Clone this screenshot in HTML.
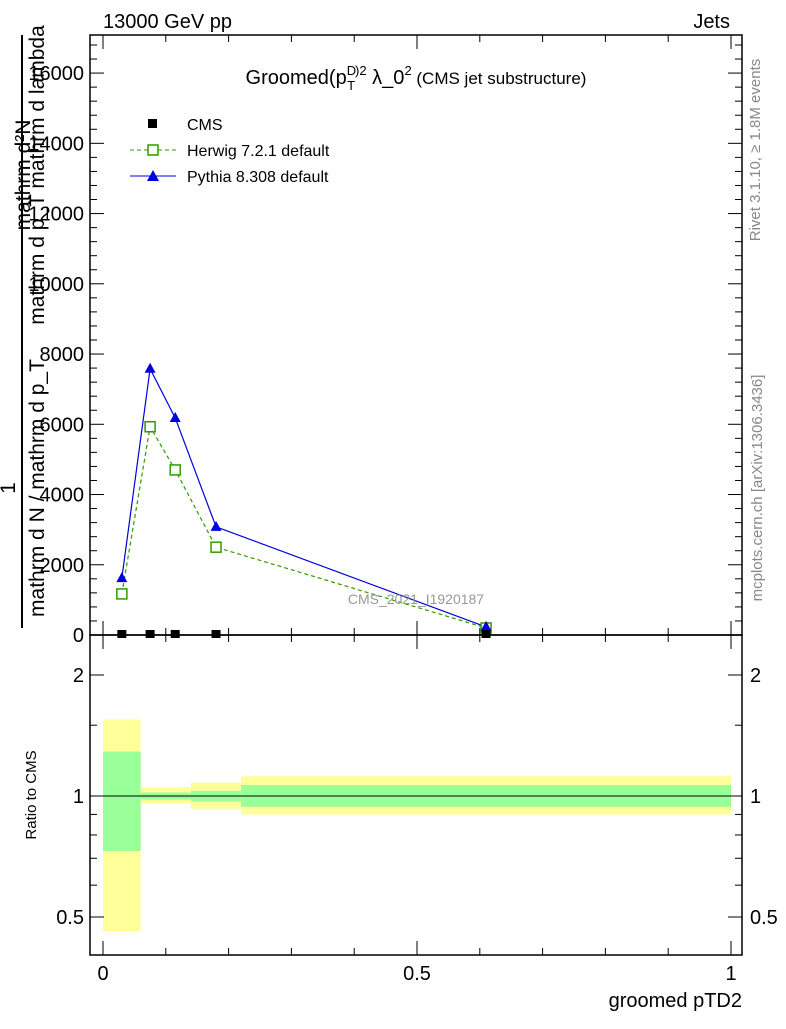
<!DOCTYPE html>
<html><head><meta charset="utf-8"><style>
body{margin:0;background:#fff;font-family:"Liberation Sans",sans-serif}
</style></head><body>
<svg id="c" width="786" height="1024" xmlns="http://www.w3.org/2000/svg" font-family="Liberation Sans, sans-serif">
<text x="103" y="28" font-size="20">13000 GeV pp</text>
<text x="730" y="28" font-size="20" text-anchor="end">Jets</text>
<rect x="90" y="35" width="652" height="600" fill="none" stroke="#000" stroke-width="1.5"/>
<rect x="90" y="635" width="652" height="320" fill="none" stroke="#000" stroke-width="1.5"/>
<g id="bands"></g>
<g id="axes"></g>
<g id="series"></g>
<text x="416" y="84" font-size="20" text-anchor="middle">Groomed(p<tspan font-size="13" dy="-9">D</tspan><tspan font-size="13" dy="15" dx="-9">T</tspan><tspan font-size="13" dy="-15">)</tspan><tspan font-size="13">2</tspan><tspan dy="9"> λ_0</tspan><tspan font-size="13" dy="-9">2</tspan><tspan dy="9" font-size="17"> (CMS jet substructure)</tspan></text>
<g>
<rect x="148" y="119" width="9" height="9" fill="#000"/>
<text x="187" y="130" font-size="16">CMS</text>
<line x1="130" y1="150" x2="176" y2="150" stroke="#339900" stroke-dasharray="4,3"/>
<rect x="148" y="145" width="10" height="10" fill="#fff" stroke="#339900" stroke-width="1.5"/>
<text x="187" y="156" font-size="16">Herwig 7.2.1 default</text>
<line x1="130" y1="176" x2="176" y2="176" stroke="#0000dd"/>
<polygon points="153,170 159,181 147,181" fill="#0000dd"/>
<text x="187" y="182" font-size="16">Pythia 8.308 default</text>
</g>
<text x="416" y="604" font-size="14" fill="#999" text-anchor="middle">CMS_2021_I1920187</text>
<text transform="translate(760,150) rotate(-90)" font-size="15" fill="#888" text-anchor="middle">Rivet 3.1.10, ≥ 1.8M events</text>
<text transform="translate(762,488) rotate(-90)" font-size="15" fill="#888" text-anchor="middle">mcplots.cern.ch [arXiv:1306.3436]</text>
<g font-size="21">
<text transform="translate(30,175) rotate(-90)" text-anchor="middle">mathrm d²N</text>
<text transform="translate(44,175) rotate(-90)" text-anchor="middle">mathrm d p_T mathrm d lambda</text>
<line x1="22" y1="35" x2="22" y2="628" stroke="#000" stroke-width="2"/>
<text transform="translate(15,488) rotate(-90)" text-anchor="middle">1</text>
<text transform="translate(44,488) rotate(-90)" text-anchor="middle">mathrm d N / mathrm d p_T</text>
</g>
<text transform="translate(36,795) rotate(-90)" font-size="15" text-anchor="middle">Ratio to CMS</text>
<text x="742" y="1007" font-size="20" text-anchor="end">groomed pTD2</text>
</svg>
<script>
const xVals=[0.030,0.075,0.115,0.18,0.61];
const cmsVals=[0,0,0,0,0];
const herwigVals=[1170,5930,4700,2500,200];
const pythiaVals=[1620,7580,6180,3080,230];
const yTicks=[0,2000,4000,6000,8000,10000,12000,14000,16000];
const xTicks=[0,0.5,1];
const binEdges=[0,0.06,0.14,0.22,1];
const yellowLo=[0.46,0.96,0.93,0.9];
const yellowHi=[1.55,1.05,1.08,1.12];
const greenLo=[0.73,0.98,0.97,0.94];
const greenHi=[1.29,1.02,1.03,1.065];
const ratioTicks=[0.5,1,2];
const NS='http://www.w3.org/2000/svg';
const X=v=>103+v*628;
const Y=v=>635-v*0.03512;
const R=v=>796-Math.log10(v)*402;
function mk(t,a,p){const e=document.createElementNS(NS,t);for(const k in a)e.setAttribute(k,a[k]);p.appendChild(e);return e;}
const ax=document.getElementById('axes'),bd=document.getElementById('bands'),sr=document.getElementById('series');
for(let i=0;i<4;i++){
 const x0=X(binEdges[i]),x1=X(binEdges[i+1]);
 const y=mk('rect',{x:x0,y:R(yellowHi[i]),width:x1-x0,height:R(yellowLo[i])-R(yellowHi[i]),fill:'#ffff99'},bd);
 
 const g=mk('rect',{x:x0,y:R(greenHi[i]),width:x1-x0,height:R(greenLo[i])-R(greenHi[i]),fill:'#99ff99'},bd);
 
}
const l1=mk('line',{x1:90,x2:742,y1:R(1),y2:R(1),stroke:'#000'},bd);

yTicks.forEach(v=>{const y=Y(v);
 mk('line',{x1:90,x2:104,y1:y,y2:y,stroke:'#000'},ax);mk('line',{x1:728,x2:742,y1:y,y2:y,stroke:'#000'},ax);
 const t=mk('text',{x:84,y:y+7,'font-size':20,'text-anchor':'end'},ax);t.textContent=v;
 
 for(let k=1;k<5;k++){const yy=Y(v+k*400);if(yy>35){mk('line',{x1:90,x2:97,y1:yy,y2:yy,stroke:'#000'},ax);mk('line',{x1:735,x2:742,y1:yy,y2:yy,stroke:'#000'},ax);}}
});
xTicks.forEach(v=>{const x=X(v);
 [[635,621],[35,49],[955,941]].forEach(a=>mk('line',{x1:x,x2:x,y1:a[0],y2:a[1],stroke:'#000'},ax));
 mk('line',{x1:x,x2:x,y1:635,y2:649,stroke:'#000'},ax);
 const t=mk('text',{x:x,y:980,'font-size':20,'text-anchor':'middle'},ax);t.textContent=v;
 
});
for(let v=0.1;v<1;v+=0.1){if(Math.abs(v-0.5)<1e-6)continue;const x=X(v);
 [[635,628],[35,42],[955,948],[635,642]].forEach(a=>mk('line',{x1:x,x2:x,y1:a[0],y2:a[1],stroke:'#000'},ax));}
ratioTicks.forEach(v=>{const y=R(v);
 mk('line',{x1:90,x2:104,y1:y,y2:y,stroke:'#000'},ax);mk('line',{x1:728,x2:742,y1:y,y2:y,stroke:'#000'},ax);
 const t=mk('text',{x:84,y:y+7,'font-size':20,'text-anchor':'end'},ax);t.textContent=v;
 
 const t2=mk('text',{x:750,y:y+7,'font-size':20},ax);t2.textContent=v;
 
});
[0.6,0.7,0.8,0.9,1.5].forEach(v=>{const y=R(v);mk('line',{x1:90,x2:97,y1:y,y2:y,stroke:'#000'},ax);mk('line',{x1:735,x2:742,y1:y,y2:y,stroke:'#000'},ax);});
function line(vals,col,dash,name){const p=mk('polyline',{points:vals.map((v,i)=>X(xVals[i])+','+Y(v)).join(' '),fill:'none',stroke:col,'stroke-width':1.2},sr);
 if(dash)p.setAttribute('stroke-dasharray',dash);}
line(herwigVals,'#339900','4,3','herwig-line');
line(pythiaVals,'#0000dd',null,'pythia-line');
herwigVals.forEach((v,i)=>{const r=mk('rect',{x:X(xVals[i])-5,y:Y(v)-5,width:10,height:10,fill:'#fff',stroke:'#339900','stroke-width':1.5},sr);
 });
pythiaVals.forEach((v,i)=>{const x=X(xVals[i]),y=Y(v);const p=mk('polygon',{points:`${x},${y-6} ${x+5.5},${y+4} ${x-5.5},${y+4}`,fill:'#0000dd'},sr);
 });
cmsVals.forEach((v,i)=>{const r=mk('rect',{x:X(xVals[i])-4.5,y:Y(v)-5,width:9,height:8,fill:'#000'},sr);
 });
</script>
</body></html>
